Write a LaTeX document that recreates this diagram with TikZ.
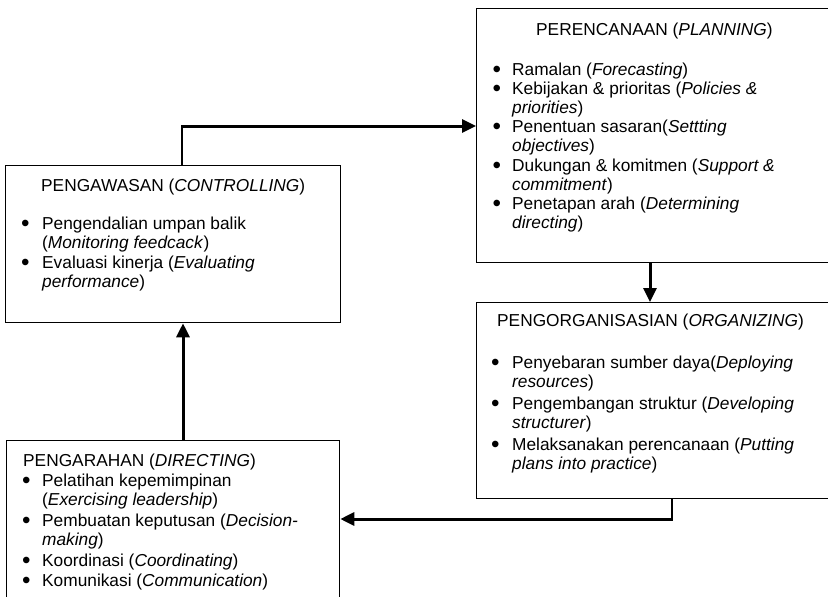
\documentclass[tikz,border=0pt]{standalone}
\usepackage{fontspec}
\setmainfont{Liberation Sans}
\usetikzlibrary{arrows.meta}
\newcommand\boxfont{\fontsize{17.3pt}{19.2pt}\selectfont}
\newcommand\bul[1]{\makebox[#1][l]{\raisebox{-0.12em}{\scalebox{1.4}{\textbullet}}}}
\begin{document}
\begin{tikzpicture}[x=1pt,y=-1pt,
  box/.style={draw,line width=1.3pt,inner sep=0pt,anchor=north west},
  txt/.style={inner sep=0pt,anchor=base west,font=\boxfont},
  link/.style={line width=1.3pt},
  flow/.style={line width=3pt,-{Triangle[length=14pt,width=13pt]}}]
\useasboundingbox (0,0) rectangle (828,597);
\clip (0,0) rectangle (828,597);
% boxes
\node[box,minimum width=364pt,minimum height=254.5pt] (plan) at (476,7.5) {};
\node[box,minimum width=364pt,minimum height=196pt] (org) at (476,302) {};
\node[box,minimum width=335pt,minimum height=157pt] (ctrl) at (5,165) {};
\node[box,minimum width=333pt,minimum height=170pt] (dir) at (6,440) {};
% planning text
\node[txt] (plant) at (536,35.7) {PERENCANAAN (\textit{PLANNING})};
\node[txt] (planl) at (492.3,75) {\begin{tabular}[t]{@{}l@{}l@{}}
\bul{19.7pt} & Ramalan (\textit{Forecasting})\\
\bul{19.7pt} & Kebijakan \& prioritas (\textit{Policies \&}\\
 & \textit{priorities})\\
\bul{19.7pt} & Penentuan sasaran(\textit{Settting}\\
 & \textit{objectives})\\
\bul{19.7pt} & Dukungan \& komitmen (\textit{Support \&}\\
 & \textit{commitment})\\
\bul{19.7pt} & Penetapan arah (\textit{Determining}\\
 & \textit{directing})
\end{tabular}};
% controlling text
\node[txt] (ctrlt) at (41,191.7) {PENGAWASAN (\textit{CONTROLLING})};
\node[txt] (ctrll) at (21,229) {\begin{tabular}[t]{@{}l@{}l@{}}
\bul{21pt} & Pengendalian umpan balik\\
 & (\textit{Monitoring feedcack})\\[1pt]
\bul{21pt} & Evaluasi kinerja (\textit{Evaluating}\\
 & \textit{performance})
\end{tabular}};
% organizing text
\node[txt] (orgt) at (497,326.7) {PENGORGANISASIAN (\textit{ORGANIZING})};
\node[txt] (orgl) at (491,368.3) {\begin{tabular}[t]{@{}l@{}l@{}}
\bul{21pt} & Penyebaran sumber daya(\textit{Deploying}\\
 & \textit{resources})\\[2.5pt]
\bul{21pt} & Pengembangan struktur (\textit{Developing}\\
 & \textit{structurer})\\[2.5pt]
\bul{21pt} & Melaksanakan perencanaan (\textit{Putting}\\
 & \textit{plans into practice})
\end{tabular}};
% directing text
\node[txt] (dirt) at (23,466) {PENGARAHAN (\textit{DIRECTING})};
\node[txt] (dirl) at (22,486) {\begin{tabular}[t]{@{}l@{}l@{}}
\bul{20pt} & Pelatihan kepemimpinan\\
 & (\textit{Exercising leadership})\\[2pt]
\bul{20pt} & Pembuatan keputusan (\textit{Decision-}\\
 & \textit{making})\\[2pt]
\bul{20pt} & Koordinasi (\textit{Coordinating})\\
\bul{20pt} & Komunikasi (\textit{Communication})
\end{tabular}};
% connectors
\coordinate (k1) at (182,126);
\coordinate (k2) at (650,0);
\coordinate (k3) at (672,519);
\coordinate (k4) at (183,0);
\draw[link] (ctrl.north -| k1) -- (k1);
\draw[flow] ([xshift=-0.6pt]k1) -- (k1 -| plan.west);
\draw[flow] (plan.south -| k2) -- (org.north -| k2);
\draw[link] (org.south -| k3) -- (k3);
\draw[flow] ([xshift=0.6pt]k3) -- (k3 -| dir.east);
\draw[flow] (dir.north -| k4) -- (ctrl.south -| k4);
\end{tikzpicture}
\end{document}
